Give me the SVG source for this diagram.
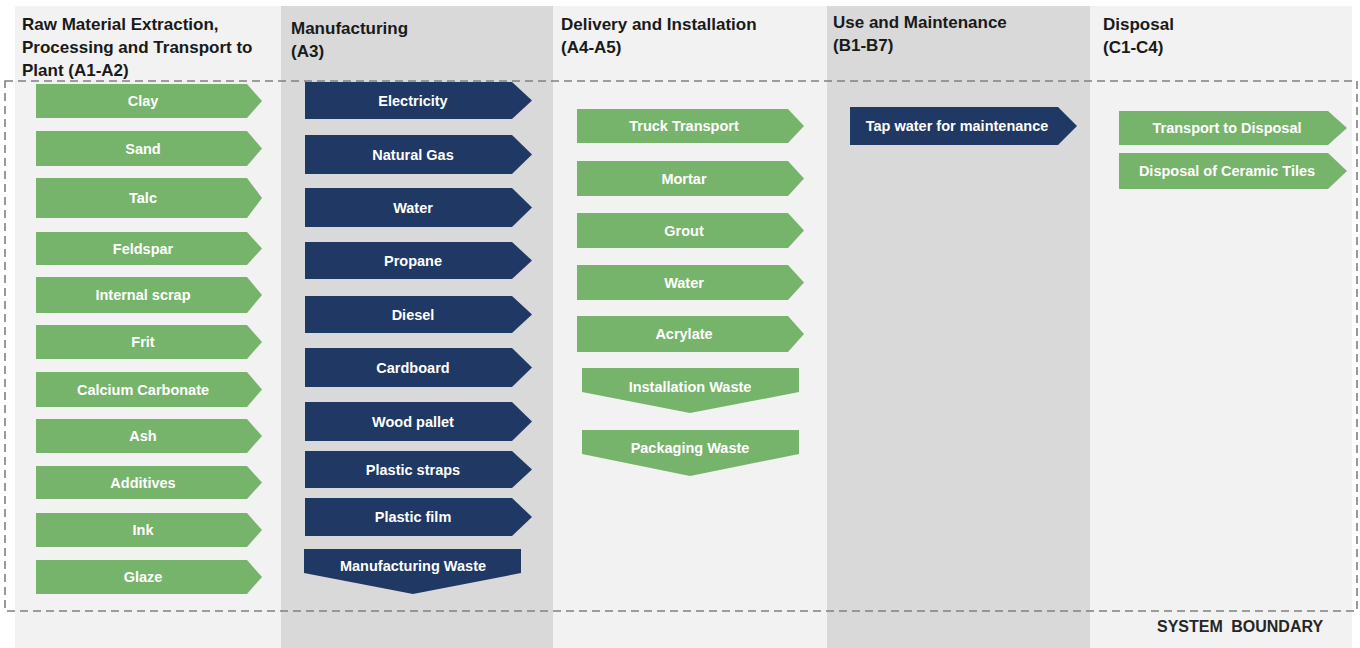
<svg xmlns="http://www.w3.org/2000/svg" width="1360" height="648" viewBox="0 0 1360 648">
<style>
.bgL{fill:#f2f2f2}
.bgD{fill:#d9d9d9}
.hd{font-family:"Liberation Sans",Arial,sans-serif;font-weight:bold;font-size:17px;fill:#1a1a1a}
.g{fill:#77b46b}
.n{fill:#1f3864}
.lb{font-family:"Liberation Sans",Arial,sans-serif;font-weight:bold;font-size:14.5px;fill:#ffffff;text-anchor:middle}
.bd{fill:none;stroke:#808080;stroke-width:1.6;stroke-dasharray:8 5}
.sb{font-family:"Liberation Sans",Arial,sans-serif;font-weight:bold;font-size:16px;fill:#262626}
</style>
<rect width="1360" height="648" fill="#ffffff"/>
<g id="stages">
<g id="stage-a1a2"><rect class="bgL" x="15" y="6" width="266" height="642"/>
<text class="hd" x="22" y="30">Raw Material Extraction,</text>
<text class="hd" x="22" y="53">Processing and Transport to</text>
<text class="hd" x="22" y="76">Plant (A1-A2)</text></g>
<g id="stage-a3"><rect class="bgD" x="281" y="6" width="272" height="642"/>
<text class="hd" x="291" y="34">Manufacturing</text>
<text class="hd" x="291" y="57">(A3)</text></g>
<g id="stage-a4a5"><rect class="bgL" x="553" y="6" width="274" height="642"/>
<text class="hd" x="561" y="30">Delivery and Installation</text>
<text class="hd" x="561" y="53">(A4-A5)</text></g>
<g id="stage-b1b7"><rect class="bgD" x="827" y="6" width="263" height="642"/>
<text class="hd" x="833" y="28">Use and Maintenance</text>
<text class="hd" x="833" y="51">(B1-B7)</text></g>
<g id="stage-c1c4"><rect class="bgL" x="1090" y="6" width="262" height="642"/>
<text class="hd" x="1103" y="30">Disposal</text>
<text class="hd" x="1103" y="53">(C1-C4)</text></g>
</g>
<g id="boundary"><rect class="bd" x="5" y="81" width="1352" height="530"/>
<text class="sb" x="1157" y="632" word-spacing="4">SYSTEM BOUNDARY</text></g>
<g id="connectors"></g>
<g id="a1a2-inputs">
<g id="clay"><polygon class="g" points="36,84 247,84 262,101 247,118 36,118"/><text class="lb" x="143" y="106">Clay</text></g>
<g id="sand"><polygon class="g" points="36,131 247,131 262,148.5 247,166 36,166"/><text class="lb" x="143" y="153.5">Sand</text></g>
<g id="talc"><polygon class="g" points="36,178 247,178 262,198 247,218 36,218"/><text class="lb" x="143" y="203">Talc</text></g>
<g id="feldspar"><polygon class="g" points="36,232 247,232 262,248.5 247,265 36,265"/><text class="lb" x="143" y="253.5">Feldspar</text></g>
<g id="internal-scrap"><polygon class="g" points="36,277 247,277 262,295 247,313 36,313"/><text class="lb" x="143" y="300">Internal scrap</text></g>
<g id="frit"><polygon class="g" points="36,325 247,325 262,342 247,359 36,359"/><text class="lb" x="143" y="347">Frit</text></g>
<g id="calcium-carbonate"><polygon class="g" points="36,372 247,372 262,389.5 247,407 36,407"/><text class="lb" x="143" y="394.5">Calcium Carbonate</text></g>
<g id="ash"><polygon class="g" points="36,419 247,419 262,436 247,453 36,453"/><text class="lb" x="143" y="441">Ash</text></g>
<g id="additives"><polygon class="g" points="36,466 247,466 262,482.5 247,499 36,499"/><text class="lb" x="143" y="487.5">Additives</text></g>
<g id="ink"><polygon class="g" points="36,513 247,513 262,530 247,547 36,547"/><text class="lb" x="143" y="535">Ink</text></g>
<g id="glaze"><polygon class="g" points="36,560 247,560 262,577 247,594 36,594"/><text class="lb" x="143" y="582">Glaze</text></g>
</g>
<g id="a3-inputs">
<g id="electricity"><polygon class="n" points="305,82 512,82 532,100.5 512,119 305,119"/><text class="lb" x="413" y="105.5">Electricity</text></g>
<g id="natural-gas"><polygon class="n" points="305,135 512,135 532,154.5 512,174 305,174"/><text class="lb" x="413" y="159.5">Natural Gas</text></g>
<g id="water-a3"><polygon class="n" points="305,188 512,188 532,207.5 512,227 305,227"/><text class="lb" x="413" y="212.5">Water</text></g>
<g id="propane"><polygon class="n" points="305,242 512,242 532,260.5 512,279 305,279"/><text class="lb" x="413" y="265.5">Propane</text></g>
<g id="diesel"><polygon class="n" points="305,296 512,296 532,314.5 512,333 305,333"/><text class="lb" x="413" y="319.5">Diesel</text></g>
<g id="cardboard"><polygon class="n" points="305,348 512,348 532,367.5 512,387 305,387"/><text class="lb" x="413" y="372.5">Cardboard</text></g>
<g id="wood-pallet"><polygon class="n" points="305,402 512,402 532,421.5 512,441 305,441"/><text class="lb" x="413" y="426.5">Wood pallet</text></g>
<g id="plastic-straps"><polygon class="n" points="305,451 512,451 532,469.5 512,488 305,488"/><text class="lb" x="413" y="474.5">Plastic straps</text></g>
<g id="plastic-film"><polygon class="n" points="305,498 512,498 532,517 512,536 305,536"/><text class="lb" x="413" y="522">Plastic film</text></g>
<g id="manufacturing-waste"><polygon class="n" points="304,549 521,549 521,573 413,594 304,573"/><text class="lb" x="413" y="571">Manufacturing Waste</text></g>
</g>
<g id="a4a5-inputs">
<g id="truck-transport"><polygon class="g" points="577,109 788,109 804,126 788,143 577,143"/><text class="lb" x="684" y="131">Truck Transport</text></g>
<g id="mortar"><polygon class="g" points="577,161 788,161 804,178.5 788,196 577,196"/><text class="lb" x="684" y="183.5">Mortar</text></g>
<g id="grout"><polygon class="g" points="577,213 788,213 804,230.5 788,248 577,248"/><text class="lb" x="684" y="235.5">Grout</text></g>
<g id="water-a4a5"><polygon class="g" points="577,265 788,265 804,282.5 788,300 577,300"/><text class="lb" x="684" y="287.5">Water</text></g>
<g id="acrylate"><polygon class="g" points="577,316 788,316 804,334 788,352 577,352"/><text class="lb" x="684" y="339">Acrylate</text></g>
<g id="installation-waste"><polygon class="g" points="582,368 799,368 799,392 690,413 582,392"/><text class="lb" x="690" y="392">Installation Waste</text></g>
<g id="packaging-waste"><polygon class="g" points="582,430 799,430 799,454 690,476 582,454"/><text class="lb" x="690" y="453">Packaging Waste</text></g>
</g>
<g id="b1b7-inputs">
<g id="tap-water"><polygon class="n" points="850,107 1058,107 1077,126 1058,145 850,145"/><text class="lb" x="957" y="131">Tap water for maintenance</text></g>
</g>
<g id="c1c4-inputs">
<g id="transport-to-disposal"><polygon class="g" points="1119,111 1328,111 1347,128 1328,145 1119,145"/><text class="lb" x="1227" y="133">Transport to Disposal</text></g>
<g id="disposal-of-tiles"><polygon class="g" points="1119,153 1328,153 1347,171 1328,189 1119,189"/><text class="lb" x="1227" y="176">Disposal of Ceramic Tiles</text></g>
</g>
</svg>
